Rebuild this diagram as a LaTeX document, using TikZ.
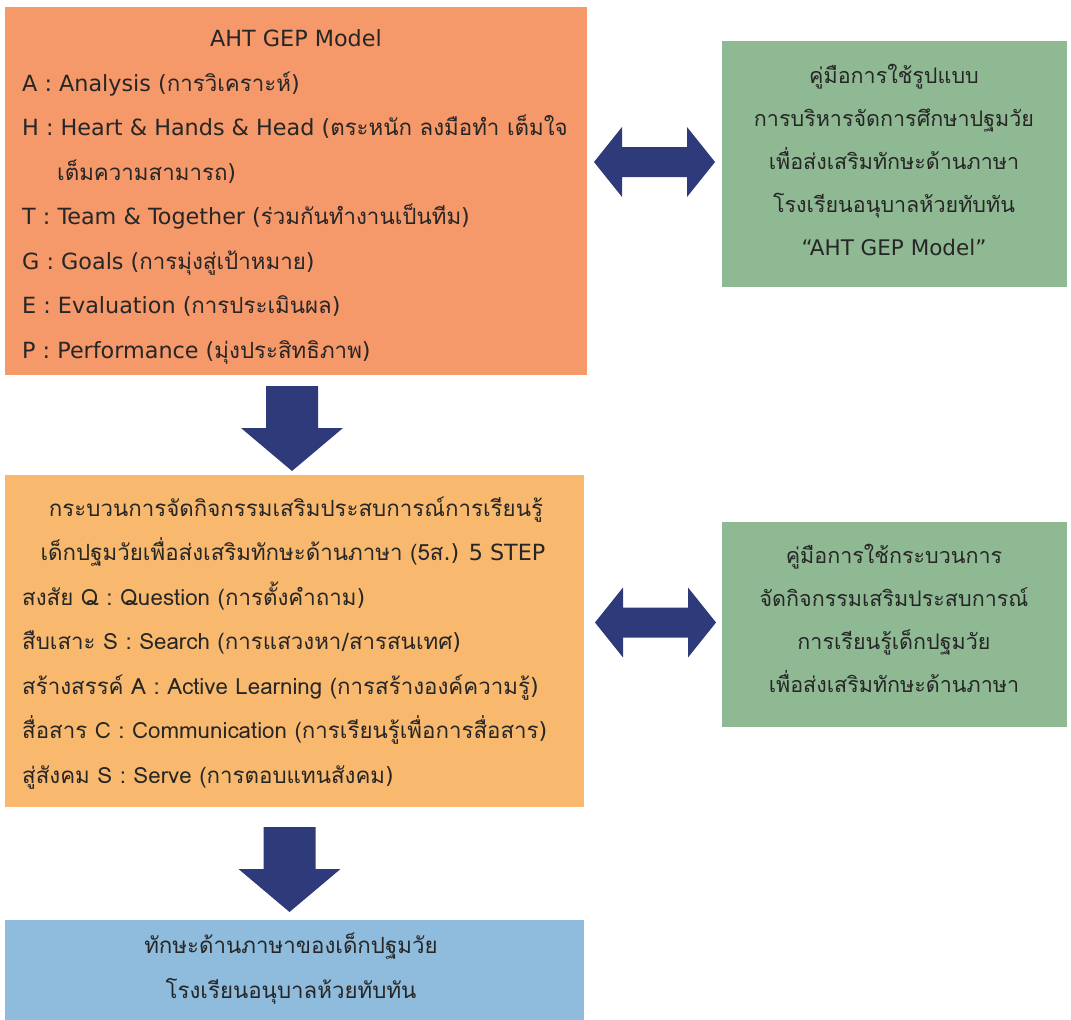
\documentclass[tikz,border=0pt]{standalone}
\usepackage{fontspec}
\setmainfont{DejaVu Sans}
\newfontfamily\thaifont[Script=Thai]{Loma}
\usetikzlibrary{calc}

% Thai letters in Loma, the rest in DejaVu Sans
\XeTeXinterchartokenstate=1
\newXeTeXintercharclass\thaichars
\newcount\thaicount \thaicount="0E00
\loop \XeTeXcharclass\thaicount=\thaichars \advance\thaicount by 1 \ifnum\thaicount<"0E80 \repeat
\XeTeXinterchartoks 0 \thaichars = {\thaifont}
\XeTeXinterchartoks 4095 \thaichars = {\thaifont}
\XeTeXinterchartoks \thaichars 0 = {\rmfamily}

\definecolor{modelorange}{HTML}{F5986A}
\definecolor{stepsorange}{HTML}{F8B96F}
\definecolor{guidegreen}{HTML}{8FB993}
\definecolor{resultblue}{HTML}{8FBCDC}
\definecolor{arrowblue}{HTML}{2E3A7A}
\definecolor{inkgray}{HTML}{262626}

\tikzset{
	panel/.style={anchor=north west, inner sep=0pt, outer sep=0pt},
	line/.style={anchor=base west, inner sep=0pt, text=inkgray, font=\fontsize{22.3}{22.3}\selectfont},
	cline/.style={line, anchor=base},
	gline/.style={cline, font=\fontsize{21.5}{21.5}\selectfont}
}

% fat arrows, #1 is the start point
\newcommand{\fatdown}[1]{\fill[arrowblue] #1 ++(-26,0) -- ++(52,0) -- ++(0,42) -- ++(25,0) -- ++(-51,43) -- ++(-51,-43) -- ++(25,0) -- cycle;}
\newcommand{\fatboth}[1]{\fill[arrowblue] #1 -- ++(28,-35) -- ++(0,20) -- ++(65,0) -- ++(0,-20) -- ++(28,35) -- ++(-28,35) -- ++(0,-20) -- ++(-65,0) -- ++(0,20) -- cycle;}

\begin{document}
\begin{tikzpicture}[x=1pt,y=-1pt]
		\useasboundingbox (0,0) rectangle (1071,1020);
		
		\node[panel, fill=modelorange, minimum width=582, minimum height=368] (model) at (5,7) {};
		\node[panel, fill=stepsorange, minimum width=579, minimum height=332] (steps) at (5,475) {};
		\node[panel, fill=resultblue, minimum width=579, minimum height=100] (result) at (5,920) {};
		\node[panel, fill=guidegreen, minimum width=345, minimum height=246] (guide1) at (722,41) {};
		\node[panel, fill=guidegreen, minimum width=345, minimum height=205] (guide2) at (722,522) {};
		
		% model
		\node[cline] (mtitle) at (296,46) {AHT GEP Model};
		\foreach \x/\y/\t [count=\i] in {
			22/91/{A : Analysis (การวิเคราะห์)},
			22/135.5/{H : Heart \& Hands \& Head (ตระหนัก ลงมือทำ เต็มใจ},
			57/180/{เต็มความสามารถ)},
			22/224.5/{T : Team \& Together (ร่วมกันทำงานเป็นทีม)},
			22/269/{G : Goals (การมุ่งสู่เป้าหมาย)},
			22/313.5/{E : Evaluation (การประเมินผล)},
			22/358/{P : Performance (มุ่งประสิทธิภาพ)}}{
			\node[line] (m\i) at (\x,\y) {\t};
		}
		
		% steps
		\node[cline] (stitle1) at (296,516) {กระบวนการจัดกิจกรรมเสริมประสบการณ์การเรียนรู้};
		\node[cline] (stitle2) at (293,560.5) {เด็กปฐมวัยเพื่อส่งเสริมทักษะด้านภาษา (5ส.) 5 STEP};
		\foreach \y/\t [count=\i] in {
			605/{สงสัย Q : Question (การตั้งคำถาม)},
			649.5/{สืบเสาะ S : Search (การแสวงหา/สารสนเทศ)},
			694/{สร้างสรรค์ A : Active Learning (การสร้างองค์ความรู้)},
			738.5/{สื่อสาร C : Communication (การเรียนรู้เพื่อการสื่อสาร)},
			783/{สู่สังคม S : Serve (การตอบแทนสังคม)}}{
			\node[line] (s\i) at (22,\y) {\t};
		}
		
		% guides
		\foreach \y/\t [count=\i] in {
			83/{คู่มือการใช้รูปแบบ},
			126/{การบริหารจัดการศึกษาปฐมวัย},
			169/{เพื่อส่งเสริมทักษะด้านภาษา},
			212/{โรงเรียนอนุบาลห้วยทับทัน},
			255/{``AHT GEP Model''}}{
			\node[gline] (ga\i) at (894,\y) {\t};
		}
		\foreach \y/\t [count=\i] in {
			563/{คู่มือการใช้กระบวนการ},
			606/{จัดกิจกรรมเสริมประสบการณ์},
			649/{การเรียนรู้เด็กปฐมวัย},
			692/{เพื่อส่งเสริมทักษะด้านภาษา}}{
			\node[gline] (gb\i) at (894,\y) {\t};
		}
		
		% result
		\node[cline] (r1) at (291,953) {ทักษะด้านภาษาของเด็กปฐมวัย};
		\node[cline] (r2) at (291,998) {โรงเรียนอนุบาลห้วยทับทัน};
		
		% arrows
		\fatdown{($(model.south)+(-4,11)$)}
		\fatdown{($(steps.south)+(-5,20)$)}
		\fatboth{($(guide1.west)+(-128,-2)$)}
		\fatboth{($(guide2.west)+(-127,-2)$)}
		
	\end{tikzpicture}
\end{document}
